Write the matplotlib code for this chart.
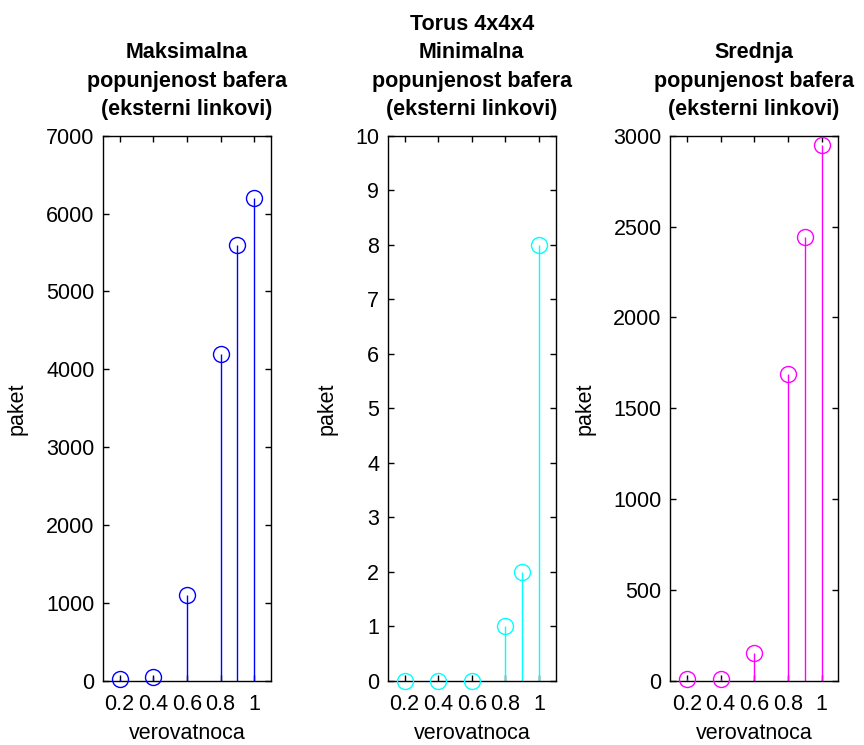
import matplotlib
matplotlib.use("Agg")
import matplotlib.pyplot as plt

plt.rcParams["font.family"] = ["Liberation Sans", "DejaVu Sans"]

x_vals = [0.2, 0.4, 0.6, 0.8, 0.9, 1.0]
max_fill = [30, 50, 1100, 4200, 5600, 6200]
min_fill = [0, 0, 0, 1, 2, 8]
avg_fill = [12, 12, 155, 1690, 2440, 2950]

titles = [
    "Maksimalna\npopunjenost bafera\n(eksterni linkovi)",
    "Torus 4x4x4\nMinimalna\npopunjenost bafera\n(eksterni linkovi)",
    "Srednja\npopunjenost bafera\n(eksterni linkovi)",
]
colors = ["#0000ff", "#00ffff", "#ff00ff"]
ylims = [7000, 10, 3000]
yticks = [
    [0, 1000, 2000, 3000, 4000, 5000, 6000, 7000],
    list(range(0, 11)),
    [0, 500, 1000, 1500, 2000, 2500, 3000],
]
xticks = [0.2, 0.4, 0.6, 0.8, 1.0]
xtick_labels = ["0.2", "0.4", "0.6", "0.8", "1"]

fig = plt.figure(figsize=(8.64, 7.45), dpi=100)
lefts = [0.1189, 0.4487, 0.7755]
series = [max_fill, min_fill, avg_fill]

for i in range(3):
    ax = fig.add_axes([lefts[i], 0.0859, 0.1948, 0.732])
    c = colors[i]
    ax.vlines(x_vals, 0, series[i], color=c, linewidth=1)
    ax.plot(x_vals, series[i], "o", markersize=11.5, markerfacecolor="none",
            markeredgecolor=c, markeredgewidth=1, clip_on=False, zorder=3)
    ax.set_xlim(0.1, 1.1)
    ax.set_ylim(0, ylims[i])
    ax.set_xticks(xticks)
    ax.set_xticklabels(xtick_labels)
    ax.set_yticks(yticks[i])
    ax.tick_params(direction="in", top=True, right=True, length=4, width=1,
                   labelsize=15.5)
    ax.tick_params(axis="x", pad=9)
    ax.tick_params(axis="y", pad=6)
    for s in ax.spines.values():
        s.set_linewidth(1)
    ax.set_xlabel("verovatnoca", fontsize=15.5, labelpad=6)
    ax.set_ylabel("paket", fontsize=15.5, labelpad=13)
    ax.set_title(titles[i], fontsize=15.5, fontweight="bold", linespacing=1.45, pad=15)

fig.savefig("out.png", dpi=100)
